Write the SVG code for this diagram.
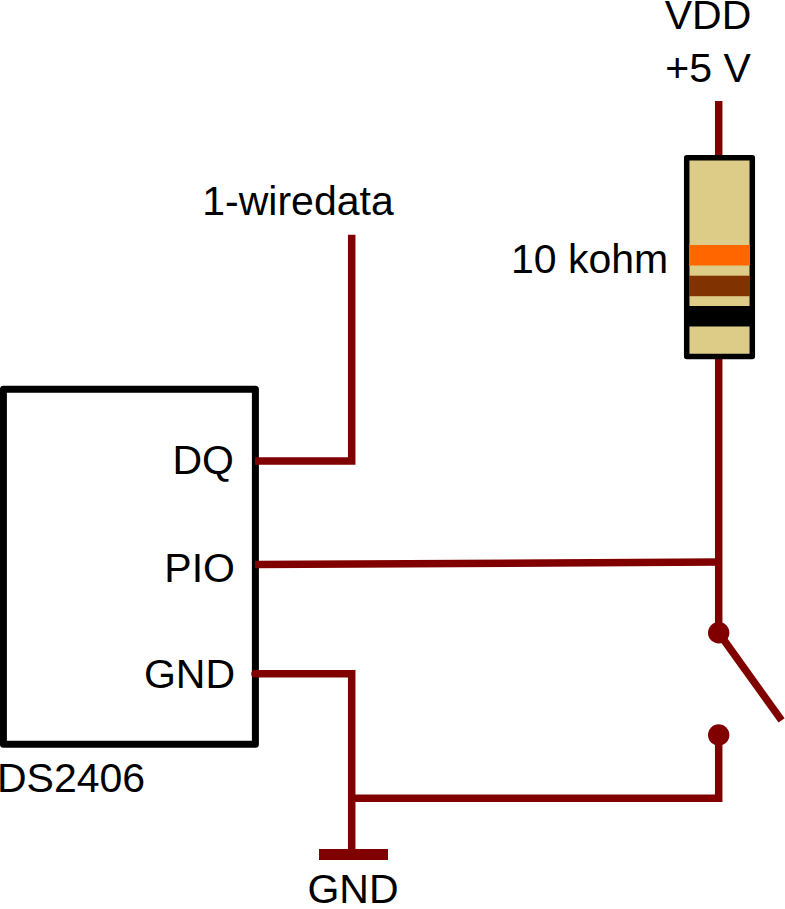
<svg xmlns="http://www.w3.org/2000/svg" width="785" height="909" viewBox="0 0 785 909">
<style>
text{font-family:"Liberation Sans",Arial,sans-serif;font-size:41px;fill:#000}
.w{fill:none;stroke:#800000;stroke-width:7.5;stroke-linejoin:miter}
.b{stroke:#000;stroke-linejoin:round}
.d{fill:#800000}
</style>
<rect width="785" height="909" fill="#fff"/>
<g id="ic">
<rect class="b" x="3.4" y="389.3" width="252" height="355" fill="none" stroke-width="7"/>
<text x="234" y="474" text-anchor="end">DQ</text>
<text x="235" y="581.7" text-anchor="end">PIO</text>
<text x="235" y="688" text-anchor="end">GND</text>
<text x="-3" y="791.7">DS2406</text>
</g>
<g id="connectors">
<path class="w" d="M718.7 101V157"/>
<path class="w" d="M718.7 357V633"/>
<path class="w" d="M255 461H351.7V234.7"/>
<path class="w" d="M255 564.6L718.7 562"/>
<path class="w" d="M255 673.7H351.7V850" stroke-linecap="round"/>
<path class="w" d="M351.7 798.3H718.7V735"/>
<path class="w" d="M718.7 632.7L781.6 720.4"/>
<rect class="d" x="319" y="849" width="69" height="11"/>
</g>
<g id="resistor">
<rect class="b" x="686.7" y="157.7" width="65.6" height="198.8" fill="#dc8" stroke-width="5.5"/>
<rect x="689" y="245" width="61" height="20.5" fill="#f60"/>
<rect x="689" y="275.7" width="61" height="20.5" fill="#803300"/>
<rect x="689" y="306" width="61" height="20.5" fill="#000"/>
<text x="511" y="273">10 kohm</text>
</g>
<g id="switch">
<circle class="d" cx="718.7" cy="632.7" r="10.7"/>
<circle class="d" cx="718.7" cy="735" r="10.7"/>
</g>
<g id="vdd"><text x="708" y="29" text-anchor="middle">VDD</text><text x="708" y="81.7" text-anchor="middle">+5 V</text></g>
<g id="data"><text x="298" y="215" text-anchor="middle">1-wiredata</text></g>
<g id="gnd"><text x="353" y="903" text-anchor="middle">GND</text></g>
</svg>
